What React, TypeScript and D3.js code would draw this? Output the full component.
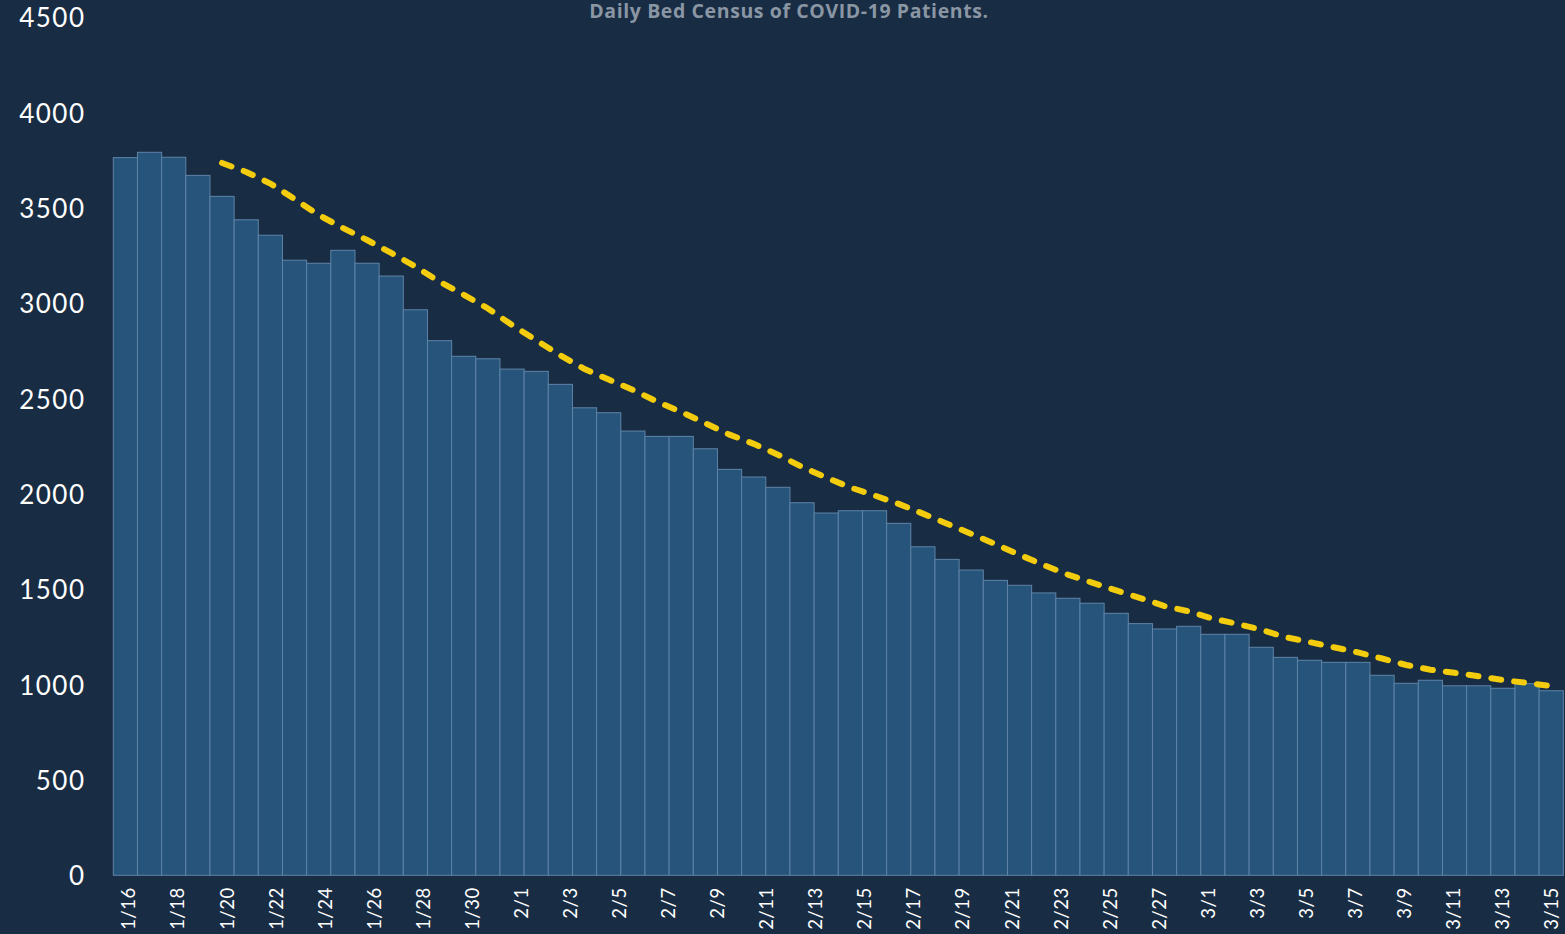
import React from "react";
import { scaleBand, scaleLinear, scalePoint, line, range } from "d3";

const svgWidth = 1565;
const svgHeight = 934;
const margin = { top: 17.3, right: 1.7, bottom: 58.7, left: 113.3 };
const bgColor = "#182c43";
const barFill = "#26547a";
const barStroke = "#5f84a8";
const avgColor = "#f3cd0d";

// daily census, one bar per day
const census = [
  3764, 3792, 3766, 3671, 3561, 3438, 3357, 3226, 3210, 3278,
  3210, 3143, 2966, 2804, 2722, 2709, 2655, 2643, 2575, 2452,
  2426, 2330, 2302, 2302, 2237, 2129, 2089, 2035, 1954, 1900,
  1912, 1912, 1846, 1723, 1657, 1601, 1547, 1521, 1481, 1453,
  1427, 1374, 1320, 1292, 1306, 1264, 1264, 1196, 1143, 1128,
  1117, 1117, 1049, 1007, 1023, 994, 994, 981, 1005, 968,
];

// dashed yellow average line, same days as the bars (none for the first four)
const averageCensus = [
  null, null, null, null, 3736, 3689, 3628, 3547, 3463, 3395,
  3332, 3264, 3193, 3113, 3045, 2973, 2886, 2806, 2727, 2655,
  2600, 2546, 2484, 2430, 2371, 2311, 2263, 2206, 2142, 2086,
  2034, 1992, 1948, 1897, 1844, 1791, 1737, 1681, 1627, 1577,
  1535, 1494, 1454, 1412, 1384, 1346, 1319, 1288, 1249, 1223,
  1196, 1169, 1137, 1103, 1078, 1062, 1044, 1024, 1009, 993,
];

const tickLabels = [
  "1/16", "1/18", "1/20", "1/22", "1/24", "1/26", "1/28", "1/30",
  "2/1", "2/3", "2/5", "2/7", "2/9", "2/11", "2/13", "2/15", "2/17",
  "2/19", "2/21", "2/23", "2/25", "2/27", "3/1", "3/3", "3/5", "3/7",
  "3/9", "3/11", "3/13", "3/15",
];

const yMax = 4500;
const title = "Daily Bed Census of COVID-19 Patients.";

function BedCensusChart() {
  const xScale = scaleBand()
    .domain(range(census.length))
    .range([margin.left, svgWidth - margin.right])
    .padding(0);
  const bw = xScale.bandwidth();

  const yScale = scaleLinear()
    .domain([0, yMax])
    .range([svgHeight - margin.bottom, margin.top]);

  // tick labels sit on their own point scale, first bar to last bar
  const labelScale = scalePoint()
    .domain(tickLabels)
    .range([xScale(0) + bw / 2 + 3, xScale(census.length - 1) + bw / 2]);

  const avgPath = line()
    .defined((d) => d != null)
    .x((d, i) => xScale(i) + bw / 2)
    .y((d) => yScale(d));

  return (
    <svg
      width={svgWidth}
      height={svgHeight}
      style={{ position: "fixed", left: 0, top: 0, display: "block" }}
    >
      <rect width={svgWidth} height={svgHeight} fill={bgColor} />
      <text
        x={789}
        y={18}
        textAnchor="middle"
        fill="#8a96a4"
        fontFamily="'Open Sans', Lato, sans-serif"
        fontWeight={700}
        fontSize={19.5}
        letterSpacing={0.6}
      >
        {title}
      </text>
      {yScale.ticks(10).map((tick) => (
        <text
          key={`y-${tick}`}
          x={85.5}
          y={yScale(tick)}
          textAnchor="end"
          dominantBaseline="central"
          fill="#ffffff"
          fontFamily="Lato, 'Noto Sans', sans-serif"
          fontSize={26}
          letterSpacing={1.5}
        >
          {tick}
        </text>
      ))}
      {census.map((value, index) => (
        <rect
          key={`bar-${index}`}
          x={xScale(index)}
          y={yScale(value)}
          width={bw}
          height={yScale(0) - yScale(value)}
          fill={barFill}
          stroke={barStroke}
          strokeWidth={1}
        />
      ))}
      <path
        d={avgPath(averageCensus)}
        fill="none"
        stroke={avgColor}
        strokeWidth={6}
        strokeDasharray="10 13"
        strokeLinecap="round"
      />
      {tickLabels.map((label) => (
        <text
          key={`x-${label}`}
          transform={`translate(${labelScale(label)},${yScale(0) + 12}) rotate(-90)`}
          textAnchor="end"
          dominantBaseline="central"
          fill="#ffffff"
          fontFamily="Lato, 'Noto Sans', sans-serif"
          fontSize={18.5}
          letterSpacing={0.5}
        >
          {label}
        </text>
      ))}
    </svg>
  );
}

export default function App() {
  return <BedCensusChart />;
}
